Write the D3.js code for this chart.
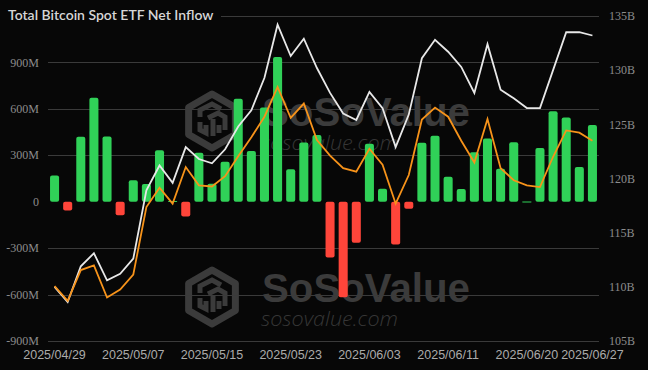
<!DOCTYPE html>
<html><head><meta charset="utf-8">
<script src="https://cdn.jsdelivr.net/npm/d3@7"></script>
<style>html,body{margin:0;padding:0;background:#070707;} svg{display:block}</style>
</head><body><svg id="c" width="648" height="370"></svg>
<script>
const dates = ["2025/04/29","2025/04/30","2025/05/01","2025/05/02","2025/05/05","2025/05/06","2025/05/07","2025/05/08","2025/05/09","2025/05/12","2025/05/13","2025/05/14","2025/05/15","2025/05/16","2025/05/19","2025/05/20","2025/05/21","2025/05/22","2025/05/23","2025/05/27","2025/05/28","2025/05/29","2025/05/30","2025/06/02","2025/06/03","2025/06/04","2025/06/05","2025/06/06","2025/06/09","2025/06/10","2025/06/11","2025/06/12","2025/06/13","2025/06/16","2025/06/17","2025/06/18","2025/06/20","2025/06/23","2025/06/24","2025/06/25","2025/06/26","2025/06/27"];
// daily net inflow, million USD
const netInflow = [170,-56,420,672,421,-87,138,114,332,5,-95,317,116,258,666,327,608,935,209,383,431,-360,-617,-265,375,84,-276,-45,381,427,162,82,319,409,213,385,2,347,584,544,224,495];
// total net assets, billion USD
const totalNetAssets = [110.0,108.6,111.9,113.1,110.6,111.2,112.6,118.9,121.2,119.6,122.9,121.8,121.4,122.7,124.8,126.3,129.3,134.2,131.3,132.9,130.2,127.9,126.0,125.4,128.0,126.5,122.9,125.9,131.1,132.8,131.7,130.3,127.9,132.4,128.2,127.4,126.5,126.5,130.0,133.5,133.5,133.2];
// BTC price, USD
const btcPrice = [94300,93000,95700,96100,93300,94000,95300,101200,102900,101500,104700,103100,103000,103900,105650,107300,109100,111700,109000,110250,107050,105700,104600,104300,106300,104900,101500,104000,108850,109900,109100,107000,105100,108900,104600,103550,103100,102950,105600,107900,107700,107000];
const leftTicks = [-900,-600,-300,0,300,600,900];
const gridTicks = [-900,-600,-300,300,600,900,1200];
const rightTicks = [105,110,115,120,125,130,135];
const xTickLabels = ["2025/04/29","2025/05/07","2025/05/15","2025/05/23","2025/06/03","2025/06/11","2025/06/20","2025/06/27"];

const svg = d3.select("#c");
const W = 648, H = 370;
const L = 48, R = 599, T = 16, B = 341;

svg.append("rect").attr("width", W).attr("height", H).attr("fill", "#070707");

const x = d3.scaleBand().domain(dates).range([L, R]).paddingInner(0.31).paddingOuter(0.155);
const yL = d3.scaleLinear().domain([-900, 1200]).range([B, T]);
const yR = d3.scaleLinear().domain([105, 135]).range([B, T]);
const yP = d3.scaleLinear().domain([89500, 117900]).range([B, T]);
const bw = x.bandwidth();

// watermark
const wmColor = "#3b3b3b";
function watermark(dy) {
  const g = svg.append("g").attr("transform", `translate(0,${dy})`);
  const cx = 212, cy = 121, Rh = 27;
  const hex = d3.range(6).map(i => {
    const a = Math.PI / 180 * (60 * i - 90);
    return [cx + Rh * Math.cos(a), cy + Rh * Math.sin(a)];
  });
  g.append("path").attr("d", "M" + hex.join("L") + "Z")
    .attr("fill", "none").attr("stroke", wmColor).attr("stroke-width", 7).attr("stroke-linejoin", "round");
  const inner = [
    `M${cx-12},${cy-4} L${cx-12},${cy-11} L${cx},${cy-17} L${cx+9},${cy-12}`,
    `M${cx-4},${cy-3} L${cx+6},${cy-8} L${cx+13},${cy-4} L${cx+13},${cy+9}`,
    `M${cx+1},${cy-2} L${cx+1},${cy+15}`,
    `M${cx-12},${cy+1} L${cx-12},${cy+9} L${cx-6},${cy+12} L${cx-6},${cy+4}`,
    `M${cx+7},${cy+4} L${cx+7},${cy+12}`
  ];
  inner.forEach(d => g.append("path").attr("d", d).attr("fill", "none")
    .attr("stroke", wmColor).attr("stroke-width", 5).attr("stroke-linejoin", "miter"));
  g.append("text").attr("x", 262).attr("y", 125.5).attr("textLength", 208).attr("lengthAdjust", "spacingAndGlyphs")
    .attr("font-family", "Liberation Sans, Arial, sans-serif").attr("font-weight", 700).attr("font-size", 41)
    .attr("fill", wmColor).text("SoSoValue");
  g.append("text").attr("x", 261).attr("y", 150).attr("textLength", 137).attr("lengthAdjust", "spacingAndGlyphs")
    .attr("font-family", "Open Sans, sans-serif").attr("font-style", "italic").attr("font-weight", 300).attr("font-size", 20)
    .attr("fill", "#363636").text("sosovalue.com");
}
watermark(0);
watermark(176);

// gridlines
svg.append("g").selectAll("line").data(gridTicks).join("line")
  .attr("x1", L).attr("x2", R).attr("y1", d => Math.round(yL(d)) + 0.5).attr("y2", d => Math.round(yL(d)) + 0.5)
  .attr("stroke", "#3a3a3a").attr("stroke-width", 1);

// title with background
svg.append("rect").attr("x", 0).attr("y", 4).attr("width", 221).attr("height", 22).attr("fill", "#070707");
svg.append("text").attr("x", 8).attr("y", 19.5)
  .attr("font-family", "Lato, sans-serif").attr("font-size", 14).attr("font-weight", 600)
  .attr("fill", "#d6d6d6").text("Total Bitcoin Spot ETF Net Inflow");

// bars
svg.append("g").selectAll("rect").data(dates.map((d, i) => ({d, v: netInflow[i]}))).join("rect")
  .attr("x", o => x(o.d))
  .attr("width", bw)
  .attr("y", o => Math.min(yL(o.v), yL(0)))
  .attr("height", o => Math.max(1, Math.abs(yL(o.v) - yL(0))))
  .attr("rx", o => Math.min(2, Math.abs(yL(o.v) - yL(0)) / 2))
  .attr("fill", o => o.v >= 0 ? "#30d158" : "#ff453a");

// lines
const cxOf = d => x(d) + bw / 2;
svg.append("path").datum(dates.map((d, i) => [cxOf(d), yR(totalNetAssets[i])]))
  .attr("d", d3.line()).attr("fill", "none").attr("stroke", "#e8e8e8").attr("stroke-width", 1.8).attr("stroke-linejoin", "miter");
svg.append("path").datum(dates.map((d, i) => [cxOf(d), yP(btcPrice[i])]))
  .attr("d", d3.line()).attr("fill", "none").attr("stroke", "#f7931a").attr("stroke-width", 1.8).attr("stroke-linejoin", "miter");

// left axis labels
svg.append("g").selectAll("text").data(leftTicks).join("text")
  .attr("x", 39).attr("y", d => yL(d)).attr("dy", "0.35em").attr("text-anchor", "end")
  .attr("font-family", "Liberation Serif, Times New Roman, serif").attr("font-size", 12).attr("fill", "#8c8c8c")
  .text(d => d === 0 ? "0" : d + "M");

// right axis labels
svg.append("g").selectAll("text").data(rightTicks).join("text")
  .attr("x", 609).attr("y", d => yR(d)).attr("dy", "0.35em").attr("text-anchor", "start")
  .attr("font-family", "Liberation Serif, Times New Roman, serif").attr("font-size", 12).attr("fill", "#8c8c8c")
  .text(d => d + "B");

// date labels
svg.append("g").selectAll("text").data(xTickLabels).join("text")
  .attr("x", d => cxOf(d)).attr("y", 359).attr("text-anchor", "middle")
  .attr("font-family", "Liberation Sans, Arial, sans-serif").attr("font-size", 12.5).attr("fill", "#ababab")
  .text(d => d);
</script></body></html>
